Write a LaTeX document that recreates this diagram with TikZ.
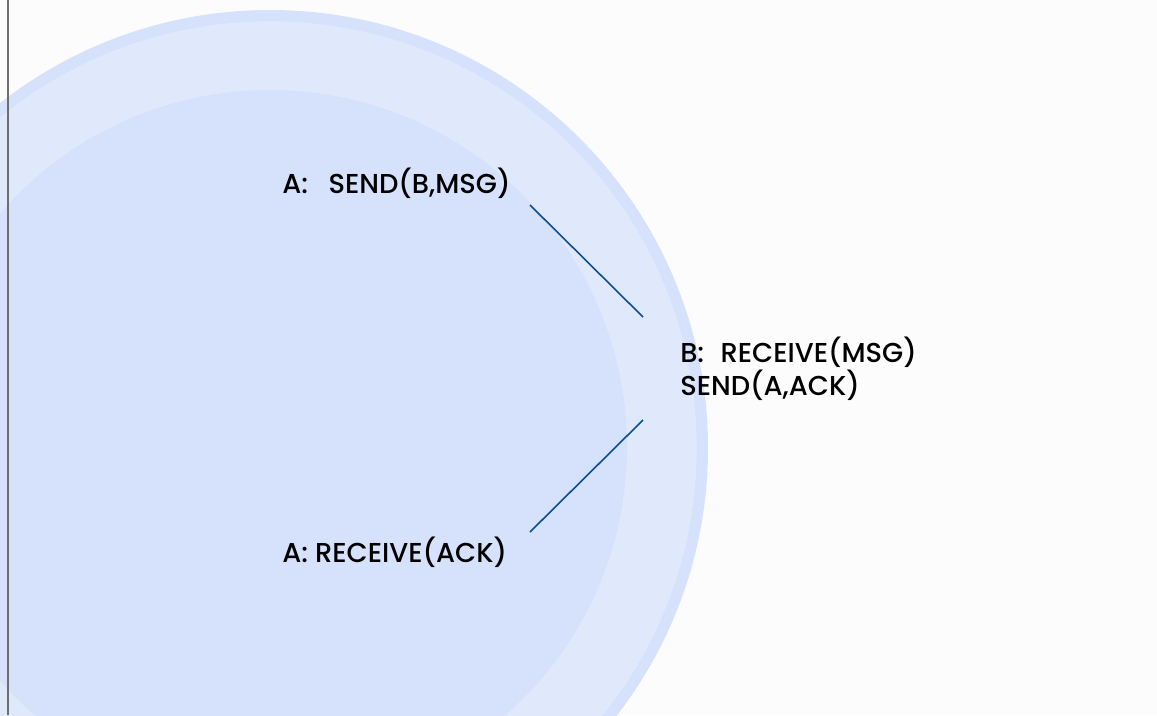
\documentclass[tikz,border=0pt]{standalone}
\usepackage{fontspec}
\setmainfont{Poppins}[UprightFont=* Medium]
\usepackage{xcolor}
\usepackage{tikz}
\usetikzlibrary{positioning}

\definecolor{ringblue}{RGB}{214,225,252}
\definecolor{paleblue}{RGB}{224,233,252}
\definecolor{msgblue}{RGB}{12,78,146}
\definecolor{edgegray}{RGB}{110,110,110}

\begin{document}
\begin{tikzpicture}[x=0.75pt, y=-0.75pt,
    label/.style={anchor=base west, inner sep=0pt, font=\fontsize{20.5pt}{24pt}\selectfont},
    msg/.style={draw=msgblue, line width=1.2pt}]
    \useasboundingbox (0,0) rectangle (1157,715);
    \clip (0,0) rectangle (1157,715);
    \fill[white!99!black] (0,0) rectangle (1157,715);
    % the three discs
    \fill[ringblue] (270,448) circle[radius=328.5pt];
    \fill[paleblue] (270,448) circle[radius=320pt];
    \fill[ringblue] (270,447) circle[radius=267.75pt];
    \draw[edgegray, line width=1.5pt] (8,0) -- (8,715);
    % messages
    \node[label] (senda) at (282,193) {A:\hspace{0.75em}SEND(B,MSG)};
    \node[label] (recvb) at (680,362) {B:\hspace{0.6em}RECEIVE(MSG)};
    \node[label] (sendb) at (680,395) {SEND(A,ACK)};
    \node[label] (recva) at (282,562) {A: RECEIVE(ACK)};
    \coordinate (s1) at (530,205);
    \coordinate (r1) at (643,317);
    \coordinate (r2) at (643,420);
    \coordinate (a2) at (530,532);
    \draw[msg] (s1) -- (r1);
    \draw[msg] (r2) -- (a2);
\end{tikzpicture}
\end{document}
